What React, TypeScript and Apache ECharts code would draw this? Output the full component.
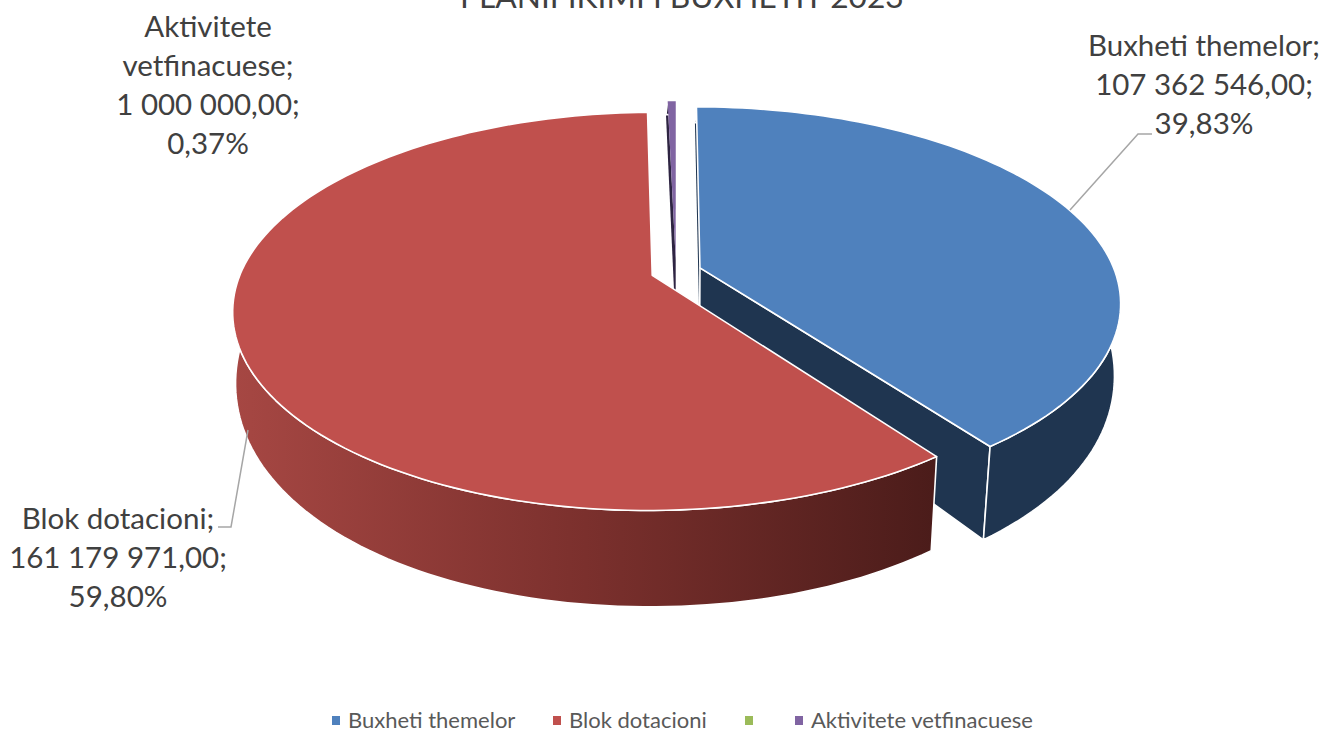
import React, { useEffect, useRef } from "react";
import * as echarts from "echarts";

const titleText = "PLANIFIKIMI I BUXHETIT 2023";
const categories = ["Buxheti themelor", "Blok dotacioni", "", "Aktivitete vetfinacuese"];
const values = [107362546, 161179971, 0, 1000000];
const labelNames = [["Buxheti themelor;"], ["Blok dotacioni;"], [], ["Aktivitete", "vetfinacuese;"]];
const topColors = ["#4F81BD", "#C0504D", "#9BBB59", "#8064A2"];
const wallColors = ["#1F3550", "#7A2F2D", "#5D7035", "#2E2442"];
const FONT = "Lato, 'Open Sans', sans-serif";

const total = values.reduce((a, b) => a + b, 0);
const fmtValue = (v: number) =>
  v.toFixed(2).replace(".", ",").replace(/\B(?=(\d{3})+(?!\d))/g, " ");
const fmtPct = (v: number) => ((v / total) * 100).toFixed(2).replace(".", ",") + "%";

const CX = 676;
const TOP = { cy: 271.5, K: 190, p: 0.173 };
const BOT = { cy: 340, R: 410, K: 235, p: 0.1, px: 0.157 };
const EXPLODE = 0.061;

const topPt = (u: number, v: number) => {
  const s = 1 / (1 - TOP.p * v);
  const R = u < 0 ? 411 : 415;
  const K = v > 0 ? 193 : TOP.K;
  return [CX + R * u * s, TOP.cy + K * v * s];
};
const botPt = (u: number, v: number) => {
  const s = 1 / (1 - BOT.p * v);
  const sx = 1 / (1 - BOT.px * v);
  const skew = v < 0 ? 1.5 * v : 2 * v;
  return [CX + BOT.R * u * sx + skew, BOT.cy + BOT.K * v * s];
};

const labelAnchors = [
  { x: 1204, y: 64 },
  { x: 118, y: 537 },
  { x: 0, y: 0 },
  { x: 208, y: 64 },
];
const leaders = [
  [[1070, 210], [1138, 134], [1152, 134]],
  [[248, 430], [231, 527], [218, 527]],
];
const layerBase = [1, 5, 0, 3];

function renderItem(params: any, api: any) {
  const i = params.dataIndex;
  const value = api.value(0);
  if (!value) return { type: "group", children: [] };
  let before = 0;
  for (let k = 0; k < i; k++) before += values[k];
  const a0 = (before / total) * Math.PI * 2;
  const a1 = ((before + value) / total) * Math.PI * 2;
  const mid = (a0 + a1) / 2;
  const ex = Math.sin(mid) * EXPLODE;
  const ey = -Math.cos(mid) * EXPLODE;
  const rim = (a: number) => [Math.sin(a) + ex, -Math.cos(a) + ey];
  const steps = Math.max(2, Math.ceil((a1 - a0) / (Math.PI / 120)));
  const arc: number[][] = [];
  for (let s = 0; s <= steps; s++) arc.push(rim(a0 + ((a1 - a0) * s) / steps));
  const topArc = arc.map(([u, v]) => topPt(u, v));
  const botArc = arc.map(([u, v]) => botPt(u, v));
  const apexT = topPt(ex, ey);
  const apexB = botPt(ex, ey);
  const base = layerBase[i];
  const white = { stroke: "#ffffff", lineWidth: 1.6, lineJoin: "round" };
  const wallFill =
    i === 1
      ? new echarts.graphic.LinearGradient(
          235, 0, 935, 0,
          [
            { offset: 0, color: "#A64743" },
            { offset: 0.5, color: "#7B302D" },
            { offset: 1, color: "#4B1C1A" },
          ],
          true
        )
      : wallColors[i];
  const children: any[] = [];
  if (i === 0) {
    children.push({
      type: "polygon", z2: base,
      shape: { points: [apexT, topArc[0], botArc[0], apexB] },
      style: { fill: wallColors[i], stroke: "none" },
    });
    children.push({
      type: "polygon", z2: base,
      shape: { points: [apexT, topArc[topArc.length - 1], botArc[botArc.length - 1], apexB] },
      style: { fill: wallColors[i], ...white },
    });
  }
  if (i === 3) {
    children.push({
      type: "polygon", z2: base,
      shape: { points: [apexT, topArc[0], botArc[0], apexB] },
      style: { fill: wallColors[i], stroke: "none" },
    });
  }
  children.push({
    type: "polygon", z2: base,
    shape: { points: [...topArc, ...botArc.slice().reverse()] },
    style: { fill: wallFill, ...white },
  });
  children.push({
    type: "polygon", z2: base + 1,
    shape: { points: [apexT, ...topArc] },
    style: { fill: topColors[i], ...(i === 3 ? { stroke: "none" } : white) },
  });
  const text = [...labelNames[i], fmtValue(value) + ";", fmtPct(value)].join("\n");
  const lines = labelNames[i].length + 2;
  children.push({
    type: "text", z2: 20,
    style: {
      text,
      x: labelAnchors[i].x,
      y: labelAnchors[i].y - ((lines - 1) * 39) / 2,
      align: "center",
      verticalAlign: "top",
      fill: "#404040",
      fontFamily: FONT,
      fontSize: 29.5,
      lineHeight: 39,
    },
  });
  return { type: "group", children };
}

export default function App() {
  const ref = useRef<HTMLDivElement>(null);
  useEffect(() => {
    document.body.style.margin = "0";
    const chart = echarts.init(ref.current!, undefined, { renderer: "svg" });
    const legendX = [332, 553, 745, 795];
    const legendItems: any[] = [];
    categories.forEach((name, i) => {
      legendItems.push({
        type: "rect",
        shape: { x: legendX[i], y: 716, width: 8, height: 9 },
        style: { fill: topColors[i] },
      });
      if (name)
        legendItems.push({
          type: "text",
          style: {
            text: name,
            x: legendX[i] + 16,
            y: 719,
            verticalAlign: "middle",
            fill: "#595959",
            fontFamily: FONT,
            fontSize: 22,
          },
        });
    });
    const leaderItems = leaders.map((pts) => ({
      type: "polyline",
      shape: { points: pts },
      style: { stroke: "#A6A6A6", lineWidth: 1.5, fill: "none" },
      z: 10,
    }));
    chart.setOption({
      animation: false,
      backgroundColor: "#ffffff",
      title: {
        text: titleText,
        left: 455,
        top: -25,
        textStyle: { color: "#404040", fontFamily: FONT, fontWeight: "normal", fontSize: 31.7 },
      },
      graphic: { elements: [...leaderItems, ...legendItems] },
      series: [
        {
          type: "custom",
          coordinateSystem: "none",
          renderItem,
          data: values.map((v) => [v]),
          clip: false,
          silent: true,
        },
      ],
    });
    return () => chart.dispose();
  }, []);
  return <div ref={ref} style={{ width: 1325, height: 731, overflow: "hidden" }} />;
}
